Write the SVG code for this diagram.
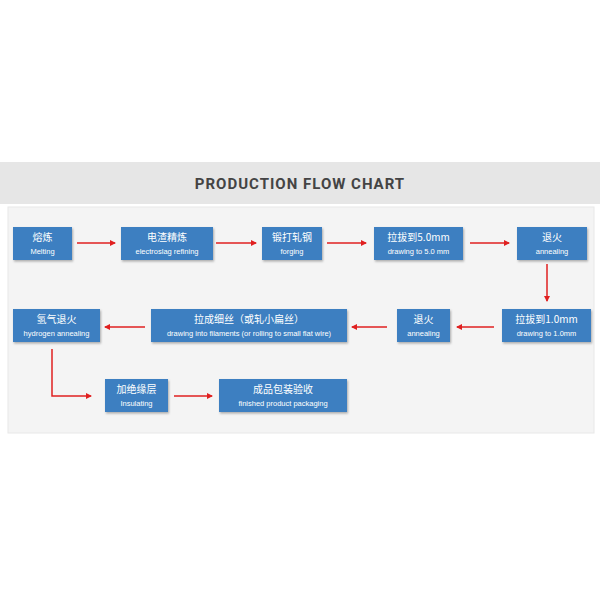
<svg xmlns="http://www.w3.org/2000/svg" width="600" height="600" viewBox="0 0 600 600">
<style>
.b{fill:#3d7fc1;filter:url(#sh)}
.c{font-family:"Noto Sans CJK SC",sans-serif;font-size:10px;fill:#fff;text-anchor:middle}
.e{font-family:"Liberation Sans",Arial,sans-serif;font-size:7.5px;fill:#fff;text-anchor:middle}
.a{stroke:#e02020;stroke-width:1.5;fill:none;marker-end:url(#ar)}
</style>
<defs>
<marker id="ar" markerWidth="6" markerHeight="6" refX="5" refY="3" orient="auto" markerUnits="userSpaceOnUse"><path d="M0,0L6,3L0,6z" fill="#e02020"/></marker>
<filter id="sh" x="-10%" y="-20%" width="130%" height="150%"><feDropShadow dx="1" dy="1.5" stdDeviation="1" flood-color="#000" flood-opacity="0.3"/></filter>
</defs>
<rect width="600" height="600" fill="#fff"/>
<rect x="0" y="162" width="600" height="42" fill="#e6e6e6"/>
<text x="300" y="189" text-anchor="middle" font-family="Roboto,'Liberation Sans',sans-serif" font-weight="bold" font-size="15" fill="#444" letter-spacing="1">PRODUCTION FLOW CHART</text>
<rect x="8" y="207" width="586" height="226" fill="#f4f4f4" stroke="#e8e8e8"/>
<g id="n1"><rect class="b" x="13" y="227" width="59" height="33"/><text class="c" x="42.5" y="241">熔炼</text><text class="e" x="42.5" y="254">Melting</text></g>
<g id="n2"><rect class="b" x="121" y="227" width="92" height="33"/><text class="c" x="167" y="241">电渣精炼</text><text class="e" x="167" y="254">electroslag refining</text></g>
<g id="n3"><rect class="b" x="262" y="227" width="60" height="33"/><text class="c" x="292" y="241">锻打轧钢</text><text class="e" x="292" y="254">forging</text></g>
<g id="n4"><rect class="b" x="374" y="227" width="89" height="33"/><text class="c" x="418.5" y="241">拉拔到5.0mm</text><text class="e" x="418.5" y="254">drawing to 5.0 mm</text></g>
<g id="n5"><rect class="b" x="517" y="227" width="70" height="33"/><text class="c" x="552" y="241">退火</text><text class="e" x="552" y="254">annealing</text></g>
<g id="n6"><rect class="b" x="502" y="309" width="89" height="33"/><text class="c" x="546.5" y="323">拉拔到1.0mm</text><text class="e" x="546.5" y="336">drawing to 1.0mm</text></g>
<g id="n7"><rect class="b" x="397" y="309" width="53" height="33"/><text class="c" x="423.5" y="323">退火</text><text class="e" x="423.5" y="336">annealing</text></g>
<g id="n8"><rect class="b" x="151" y="309" width="196" height="33"/><text class="c" x="249" y="323">拉成细丝（或轧小扁丝）</text><text class="e" x="249" y="336">drawing into filaments (or rolling to  small flat wire)</text></g>
<g id="n9"><rect class="b" x="13" y="309" width="87" height="33"/><text class="c" x="56.5" y="323">氢气退火</text><text class="e" x="56.5" y="336">hydrogen annealing</text></g>
<g id="n10"><rect class="b" x="105" y="379" width="63" height="33"/><text class="c" x="136.5" y="393">加绝缘层</text><text class="e" x="136.5" y="406">Insulating</text></g>
<g id="n11"><rect class="b" x="219" y="379" width="128" height="33"/><text class="c" x="283" y="393">成品包装验收</text><text class="e" x="283" y="406">finished product packaging</text></g>
<g id="connectors">
<path class="a" d="M77,243H115"/>
<path class="a" d="M216,243H256"/>
<path class="a" d="M327,243H366"/>
<path class="a" d="M470,243H509"/>
<path class="a" d="M547,264V301"/>
<path class="a" d="M494,327H457"/>
<path class="a" d="M387,327H352"/>
<path class="a" d="M145,327H105"/>
<path class="a" d="M52,349V396H91"/>
<path class="a" d="M174,396H212"/>
</g>
</svg>
